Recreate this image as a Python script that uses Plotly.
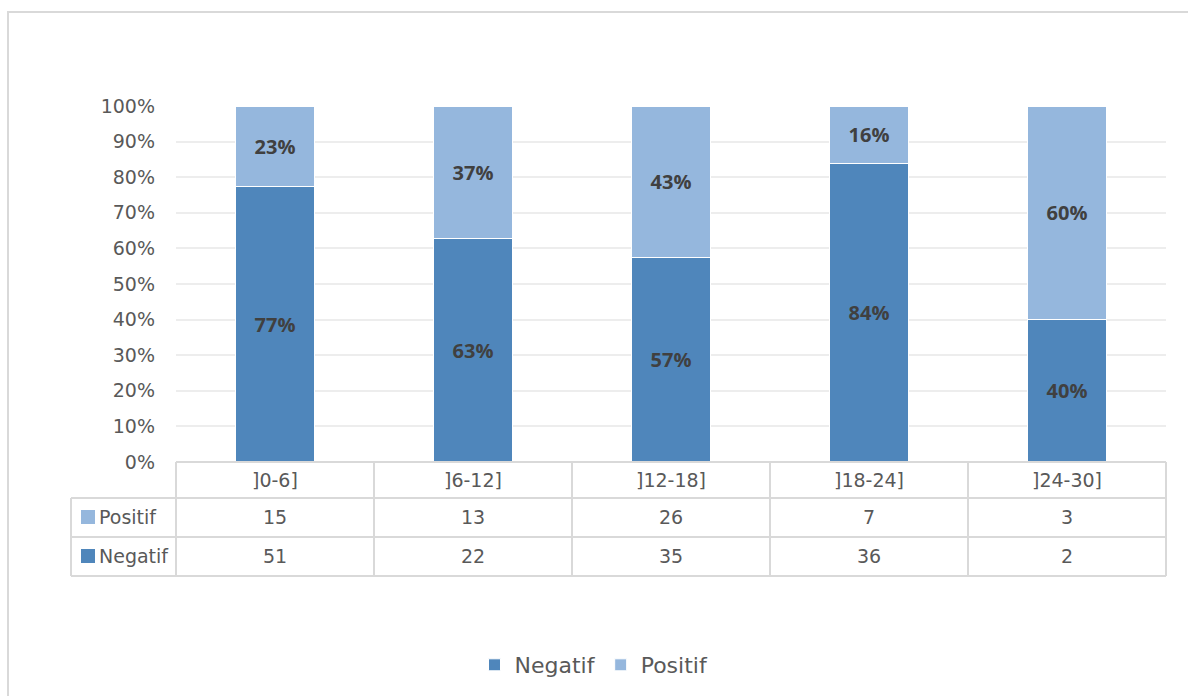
import plotly.graph_objects as go

categories = ["]0-6]", "]6-12]", "]12-18]", "]18-24]", "]24-30]"]
positif = [15, 13, 26, 7, 3]
negatif = [51, 22, 35, 36, 2]
negatif_pct = [77, 63, 57, 84, 40]
positif_pct = [23, 37, 43, 16, 60]
y_ticks = [0, 10, 20, 30, 40, 50, 60, 70, 80, 90, 100]

C_NEG = "#4F86BB"
C_POS = "#95B7DD"
GRID = "#EDEDED"
TBL = "#D9D9D9"
TXT = "#595959"

W, H = 1188, 696
def px(x):
    return x / W
def py(y):
    return 1 - y / H

X0, X1 = 176, 1166
Y_TOP, Y_BOT = 106, 462

fig = go.Figure()
fig.add_trace(go.Bar(
    x=categories, y=negatif, name="Negatif", marker_color=C_NEG,
    marker_line_color="white", marker_line_width=1,
    text=[f"{v}%" for v in negatif_pct], textposition="inside",
    insidetextanchor="middle", textangle=0,
    textfont=dict(family="Open Sans", size=20, color="#404040", weight="bold"),
    width=0.4,
))
fig.add_trace(go.Bar(
    x=categories, y=positif, name="Positif", marker_color=C_POS,
    marker_line_color="white", marker_line_width=1,
    text=[f"{v}%" for v in positif_pct], textposition="inside",
    insidetextanchor="middle", textangle=0,
    textfont=dict(family="Open Sans", size=20, color="#404040", weight="bold"),
    width=0.4,
))

shapes = []
annotations = []

# outer frame
shapes.append(dict(type="rect", xref="paper", yref="paper",
                   x0=px(8), x1=px(1196), y0=py(706), y1=py(12),
                   line=dict(color=TBL, width=2), layer="below"))

# table lines
row_y = [462, 498, 537, 576]
col_x = [176, 374, 572, 770, 968, 1166]
def line(x0, y0, x1, y1):
    shapes.append(dict(type="line", xref="paper", yref="paper",
                       x0=px(x0), x1=px(x1), y0=py(y0), y1=py(y1),
                       line=dict(color=TBL, width=2), layer="above"))
line(176, 462, 1166, 462)
for yy in row_y[1:]:
    line(71, yy, 1166, yy)
line(71, 498, 71, 576)
for xx in col_x:
    line(xx, 462, xx, 576)

font_tbl = dict(family="DejaVu Sans", size=19, color=TXT)
for i, cat in enumerate(categories):
    cx = (col_x[i] + col_x[i + 1]) / 2
    annotations.append(dict(text=cat, x=px(cx), y=py(480), xref="paper", yref="paper",
                            showarrow=False, font=font_tbl, xanchor="center", yanchor="middle"))
    annotations.append(dict(text=str(positif[i]), x=px(cx), y=py(517), xref="paper", yref="paper",
                            showarrow=False, font=font_tbl, xanchor="center", yanchor="middle"))
    annotations.append(dict(text=str(negatif[i]), x=px(cx), y=py(556), xref="paper", yref="paper",
                            showarrow=False, font=font_tbl, xanchor="center", yanchor="middle"))

# row headers with keys
for label, color, yc in [("Positif", C_POS, 517), ("Negatif", C_NEG, 556)]:
    shapes.append(dict(type="rect", xref="paper", yref="paper",
                       x0=px(81), x1=px(95), y0=py(yc + 7), y1=py(yc - 7),
                       fillcolor=color, line=dict(width=0)))
    annotations.append(dict(text=label, x=px(97), y=py(yc), xref="paper", yref="paper",
                            showarrow=False, font=font_tbl, xanchor="left", yanchor="middle"))

fig.update_layout(
    width=W, height=H,
    margin=dict(l=0, r=0, t=0, b=0, autoexpand=False),
    paper_bgcolor="white", plot_bgcolor="white",
    barmode="stack", barnorm="percent",
    bargap=0.6,
    xaxis=dict(domain=[px(X0), px(X1)], range=[-0.5, 4.5], showticklabels=False,
               showgrid=False, zeroline=False, showline=False, fixedrange=True),
    yaxis=dict(domain=[py(Y_BOT), py(Y_TOP)], range=[0, 100], tickvals=y_ticks,
               ticktext=[f"{v}%" for v in y_ticks], ticks="", ticklabelstandoff=20,
               tickfont=dict(family="DejaVu Sans", size=19, color=TXT),
               showgrid=True, gridcolor=GRID, gridwidth=2, zeroline=False, showline=False),
    showlegend=True,
    legend=dict(orientation="h", x=0.5, xanchor="center", y=py(665), yanchor="middle",
                font=dict(family="DejaVu Sans", size=22, color=TXT),
                traceorder="normal", itemclick=False),
    shapes=shapes, annotations=annotations,
    uniformtext=dict(minsize=8, mode="show"),
)

fig.write_html("out.html")
